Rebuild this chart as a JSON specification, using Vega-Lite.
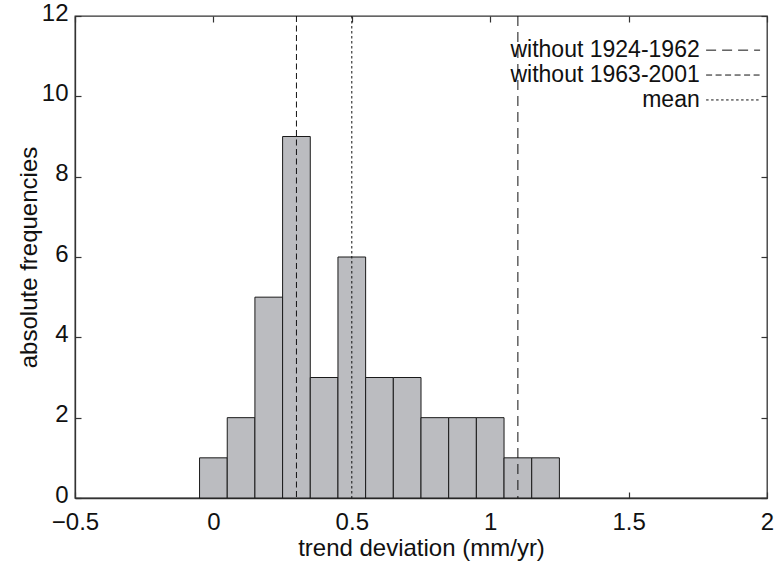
{
  "$schema": "https://vega.github.io/schema/vega-lite/v6.json",
  "autosize": "none",
  "width": 692,
  "height": 482,
  "padding": {"left": 75, "top": 16, "right": 9, "bottom": 69},
  "background": "white",
  "config": {
    "font": "Liberation Sans",
    "view": {"stroke": "#333", "strokeWidth": 1.3},
    "axis": {
      "grid": false,
      "domainColor": "#333",
      "domainWidth": 1.3,
      "tickColor": "#333",
      "tickWidth": 1.2,
      "tickSize": 6,
      "labelFont": "Liberation Sans",
      "labelFontSize": 24,
      "labelColor": "#111",
      "titleFont": "Liberation Sans",
      "titleFontSize": 24,
      "titleFontWeight": "normal",
      "titleColor": "#111"
    }
  },
  "datasets": {
    "bins": [
      {"bin_start": -0.05, "bin_end": 0.05, "count": 1},
      {"bin_start": 0.05, "bin_end": 0.15, "count": 2},
      {"bin_start": 0.15, "bin_end": 0.25, "count": 5},
      {"bin_start": 0.25, "bin_end": 0.35, "count": 9},
      {"bin_start": 0.35, "bin_end": 0.45, "count": 3},
      {"bin_start": 0.45, "bin_end": 0.55, "count": 6},
      {"bin_start": 0.55, "bin_end": 0.65, "count": 3},
      {"bin_start": 0.65, "bin_end": 0.75, "count": 3},
      {"bin_start": 0.75, "bin_end": 0.85, "count": 2},
      {"bin_start": 0.85, "bin_end": 0.95, "count": 2},
      {"bin_start": 0.95, "bin_end": 1.05, "count": 2},
      {"bin_start": 1.05, "bin_end": 1.15, "count": 1},
      {"bin_start": 1.15, "bin_end": 1.25, "count": 1}
    ],
    "lines": [
      {"series": "without 1924-1962", "value": 1.1},
      {"series": "without 1963-2001", "value": 0.3},
      {"series": "mean", "value": 0.5}
    ],
    "legend": [
      {"series": "without 1924-1962", "x": 1.78, "x2": 1.975, "y": 11.15, "tx": 1.757},
      {"series": "without 1963-2001", "x": 1.78, "x2": 1.975, "y": 10.53, "tx": 1.757},
      {"series": "mean", "x": 1.78, "x2": 1.975, "y": 9.91, "tx": 1.757}
    ]
  },
  "resolve": {"axis": {"x": "independent", "y": "independent"}},
  "layer": [
    {
      "data": {"name": "bins"},
      "mark": {"type": "bar", "fill": "#bbbcc0", "stroke": "#1a1a1a", "strokeWidth": 1},
      "encoding": {
        "x": {
          "field": "bin_start", "type": "quantitative",
          "scale": {"domain": [-0.5, 2], "nice": false, "zero": false},
          "axis": {"orient": "bottom", "values": [-0.5, 0, 0.5, 1, 1.5, 2], "format": "~g", "title": "trend deviation (mm/yr)", "ticks": false, "labelPadding": 12, "titlePadding": 2, "labelFlush": false}
        },
        "x2": {"field": "bin_end"},
        "y": {
          "field": "count", "type": "quantitative",
          "scale": {"domain": [0, 12], "nice": false},
          "axis": {"orient": "left", "values": [0, 2, 4, 6, 8, 10, 12], "title": "absolute  frequencies", "ticks": false, "labelPadding": 7, "labelOffset": -3, "titlePadding": 0, "labelFlush": false}
        },
        "y2": {"datum": 0}
      }
    },
    {
      "data": {"name": "lines"},
      "mark": {"type": "rule", "color": "#111", "strokeWidth": 1},
      "encoding": {
        "x": {"field": "value", "type": "quantitative", "axis": {"orient": "bottom", "values": [-0.5, 0, 0.5, 1, 1.5, 2], "labels": false, "title": null, "domain": false, "offset": -6}},
        "strokeDash": {
          "field": "series", "type": "nominal", "legend": null,
          "scale": {"domain": ["without 1924-1962", "without 1963-2001", "mean"], "range": [[10, 6], [6, 3.5], [2.5, 2.5]]}
        }
      }
    },
    {
      "data": {"name": "legend"},
      "mark": {"type": "rule", "color": "#111", "strokeWidth": 1},
      "encoding": {
        "x": {"field": "x", "type": "quantitative", "axis": {"orient": "top", "values": [-0.5, 0, 0.5, 1, 1.5, 2], "labels": false, "title": null, "domain": false, "offset": -6}},
        "x2": {"field": "x2"},
        "y": {"field": "y", "type": "quantitative", "axis": {"orient": "right", "values": [0, 2, 4, 6, 8, 10, 12], "labels": false, "title": null, "domain": false, "offset": -6}},
        "strokeDash": {
          "field": "series", "type": "nominal", "legend": null,
          "scale": {"domain": ["without 1924-1962", "without 1963-2001", "mean"], "range": [[10, 6], [6, 3.5], [2.5, 2.5]]}
        }
      }
    },
    {
      "data": {"name": "legend"},
      "mark": {"type": "text", "align": "right", "baseline": "middle", "fontSize": 23, "font": "Liberation Sans", "color": "#111"},
      "encoding": {
        "x": {"field": "tx", "type": "quantitative", "axis": null},
        "y": {"field": "y", "type": "quantitative", "axis": {"orient": "left", "values": [0, 2, 4, 6, 8, 10, 12], "labels": false, "title": null, "domain": false, "offset": -6}},
        "text": {"field": "series"}
      }
    }
  ]
}
